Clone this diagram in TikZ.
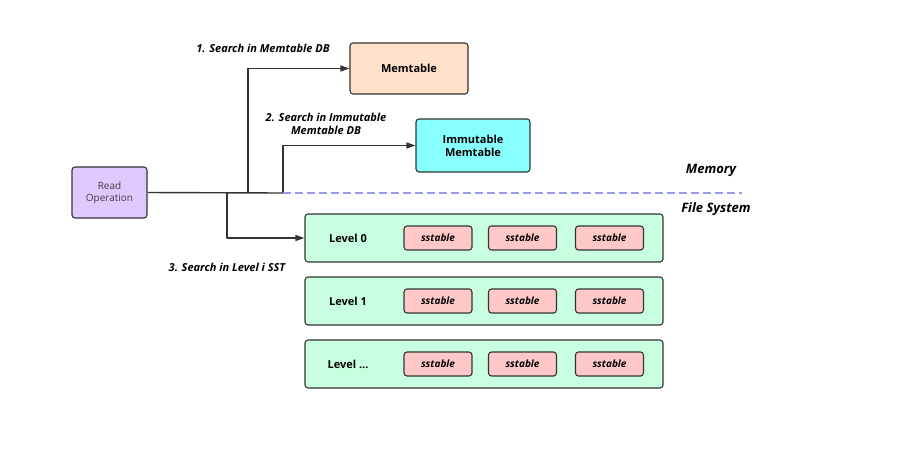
\documentclass[tikz,border=0pt]{standalone}
\usepackage{fontspec}
\setmainfont{Open Sans}
\usetikzlibrary{arrows.meta}
\definecolor{readfill}{HTML}{E0C8FF}
\definecolor{memfill}{HTML}{FFE0C8}
\definecolor{immfill}{HTML}{88FFFF}
\definecolor{lvlfill}{HTML}{C8FFE0}
\definecolor{sstfill}{HTML}{FFC8C8}
\definecolor{edge}{HTML}{333333}
\definecolor{splitline}{HTML}{9999F0}
\begin{document}
\begin{tikzpicture}[x=1pt,y=-1pt,>={Triangle[length=9pt,width=6pt]},
    line join=round,
    box/.style={draw=edge,line width=1.1pt,rounded corners=3pt,inner sep=0pt,align=center},
    lvl/.style={box,fill=lvlfill,minimum width=358pt,minimum height=48pt},
    sst/.style={box,fill=sstfill,minimum width=68pt,minimum height=24pt,font=\fontsize{10}{11}\selectfont\bfseries\itshape},
    lbl/.style={font=\fontsize{11}{13.5}\selectfont\bfseries\itshape,align=center,inner sep=0pt},
    wire/.style={draw=edge,line width=1.4pt}]
    \useasboundingbox (0,0) rectangle (905,459);
    \def\lvldots{...}
    % boxes in memory
    \node[box,fill=readfill,minimum width=75pt,minimum height=51pt,
          font=\fontsize{10}{12}\selectfont,text=black!75] (read) at (109.5,192.5) {Read\\Operation};
    \node[box,fill=memfill,minimum width=118pt,minimum height=51pt,
          font=\fontsize{11}{13}\selectfont\bfseries] (mem) at (409,68.5) {Memtable};
    \node[box,fill=immfill,minimum width=114pt,minimum height=53pt,
          font=\fontsize{11}{13}\selectfont\bfseries] (imm) at (473,145.5) {Immutable\\Memtable};
    % levels on disk
    \foreach \i/\y/\t in {0/238/0,1/301/1,2/364/\lvldots}{
        \node[lvl] (lvl\i) at (484,\y) {};
        \node[font=\fontsize{11}{13}\selectfont\bfseries,inner sep=0pt] (lvltxt\i) at (348,\y) {Level \t};
        \node[sst] (sst\i a) at (438,\y) {sstable};
        \node[sst] (sst\i b) at (522.5,\y) {sstable};
        \node[sst] (sst\i c) at (609.5,\y) {sstable};
    }
    % junctions
    \coordinate (j0) at (227,193);
    \coordinate (j1) at (248,193);
    \coordinate (j2) at (283,193);
    \coordinate (split) at (742,193);
    \draw[wire] (read.east) -- (j2);
    \draw[wire,->] (j1) |- (mem.west);
    \draw[wire,->] (j2) |- (imm.west);
    \draw[wire,->] (j0) |- (lvl0.west);
    \draw[splitline,line width=1.4pt,dash pattern=on 8pt off 4pt] (j2) -- (split);
    % labels
    \node[lbl] (l1) at (263,48) {1. Search in Memtable DB};
    \node[lbl] (l2) at (326,124) {2. Search in Immutable\\Memtable DB};
    \node[lbl] (l3) at (227,267) {3. Search in Level i SST};
    \node[lbl,font=\fontsize{13}{15}\selectfont\bfseries\itshape] (memory) at (711,170) {Memory};
    \node[lbl,font=\fontsize{13}{15}\selectfont\bfseries\itshape] (fs) at (716,209) {File System};
\end{tikzpicture}
\end{document}
